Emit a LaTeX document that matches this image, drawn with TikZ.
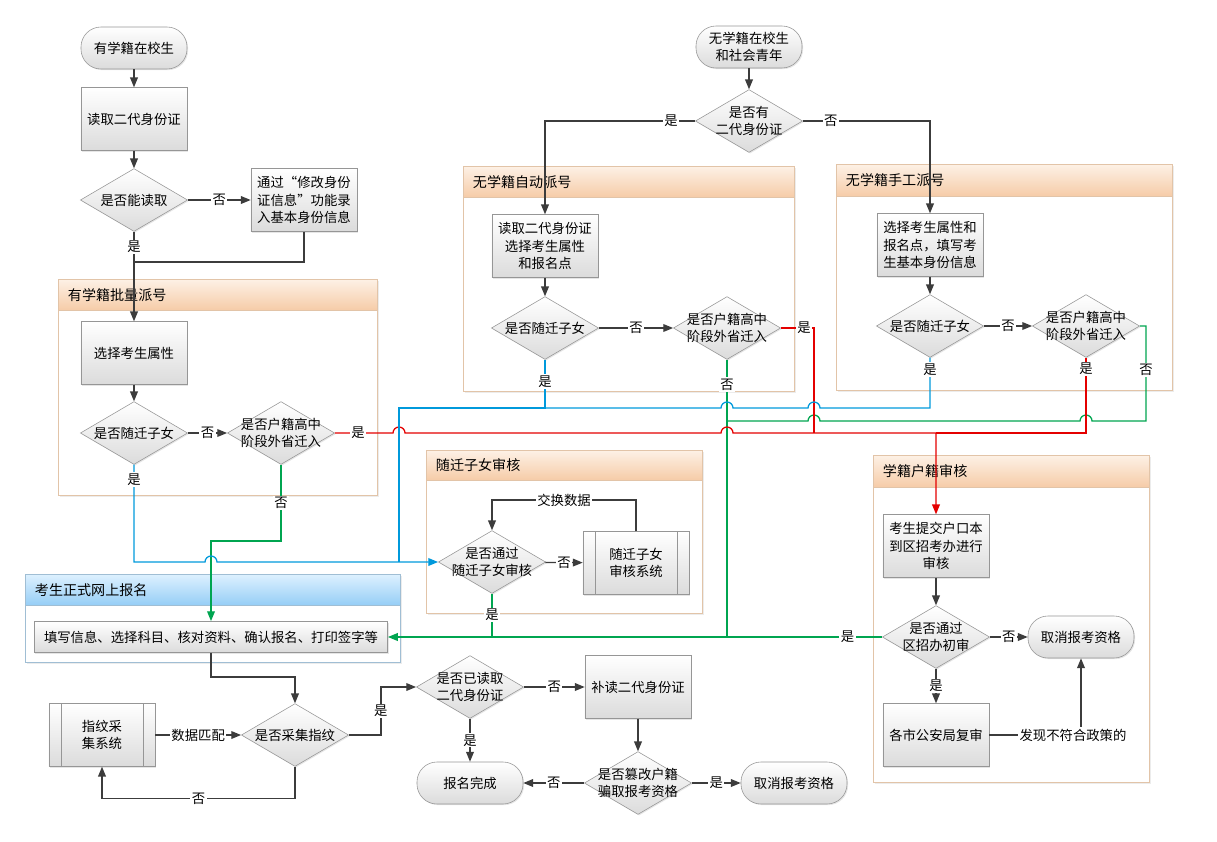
\documentclass[tikz,border=0pt]{standalone}
\usepackage{fontspec}
\setmainfont{Noto Sans CJK SC}
\usetikzlibrary{shapes.geometric,arrows.meta,shadows}
\definecolor{bline}{RGB}{0,153,219}
\definecolor{rline}{RGB}{228,0,0}
\definecolor{gline}{RGB}{0,165,80}
\definecolor{dline}{RGB}{60,60,60}
\definecolor{nodeedge}{RGB}{150,150,150}
\definecolor{lanetop}{RGB}{253,241,230}
\definecolor{lanebot}{RGB}{246,204,168}
\definecolor{laneedge}{RGB}{226,196,168}
\definecolor{bluetop}{RGB}{222,241,255}
\definecolor{bluebot}{RGB}{150,206,246}
\definecolor{blueedge}{RGB}{160,190,212}
\tikzset{
	boxbase/.style={draw=nodeedge, top color=white, bottom color=black!14, font=\fontsize{9.5}{12.5}\selectfont, align=center, drop shadow={opacity=0.2, shadow xshift=0.8pt, shadow yshift=-0.8pt}},
	proc/.style={boxbase, rectangle, minimum width=2.65cm, minimum height=1.57cm, inner sep=1pt},
	term/.style={boxbase, rectangle, rounded corners=0.5cm, minimum width=2.65cm, minimum height=1.05cm},
	decide/.style={boxbase, diamond, shape aspect=1.7, minimum width=2.68cm, minimum height=1.57cm, inner xsep=-12pt, inner ysep=-4pt},
	subproc/.style={proc, path picture={
		\draw[nodeedge] ([xshift=0.3cm]path picture bounding box.north west) -- ([xshift=0.3cm]path picture bounding box.south west)
			([xshift=-0.3cm]path picture bounding box.north east) -- ([xshift=-0.3cm]path picture bounding box.south east);}},
	wire/.style={draw=dline, line width=0.9pt},
	flow/.style={wire, -{Triangle[length=7pt,width=5.5pt]}},
	lbl/.style={fill=white, inner sep=1pt, font=\fontsize{9.5}{11}\selectfont},
	lane/.style={draw=laneedge, fill=white, drop shadow={opacity=0.15, shadow xshift=1.5pt, shadow yshift=-1.5pt}},
	lanehead/.style={draw=laneedge, top color=lanetop, bottom color=lanebot},
	bluehead/.style={draw=blueedge, top color=bluetop, bottom color=bluebot},
	lanetitle/.style={anchor=west, font=\fontsize{10}{12}\selectfont},
}
\begin{document}
\begin{tikzpicture}[x=0.025cm, y=-0.025cm]
	\useasboundingbox (0,0) rectangle (1217,842);
	%%%%% lanes %%%%%
	\draw[lane] (58,279) rectangle (377,495);
	\draw[lanehead] (58,279) rectangle (377,310);
	\node[lanetitle] (batchtitle) at (63,295) {有学籍批量派号};
	
	\draw[lane] (463,166) rectangle (794,391);
	\draw[lanehead] (463,166) rectangle (794,197);
	\node[lanetitle] (autotitle) at (468,182) {无学籍自动派号};
	
	\draw[lane] (836,164) rectangle (1172,390);
	\draw[lanehead] (836,164) rectangle (1172,196);
	\node[lanetitle] (manualtitle) at (841,180) {无学籍手工派号};
	
	\draw[lane] (426,450) rectangle (702,613);
	\draw[lanehead] (426,450) rectangle (702,480);
	\node[lanetitle] (childtitle) at (431,465) {随迁子女审核};
	
	\draw[lane, draw=blueedge] (25,574) rectangle (400,662);
	\draw[bluehead] (25,574) rectangle (400,605);
	\node[lanetitle] (onlinetitle) at (30,590) {考生正式网上报名};
	
	\draw[lane] (873,455) rectangle (1149,782);
	\draw[lanehead] (873,455) rectangle (1149,487);
	\node[lanetitle] (hukoutitle) at (878,471) {学籍户籍审核};
	
	%%%%% nodes %%%%%
	\node[term] (start1) at (134,48) {有学籍在校生};
	\node[proc] (read1) at (134,119) {读取二代身份证};
	\node[decide] (canread) at (134,200) {是否能读取};
	\node[proc] (modify) at (304,200) {通过“修改身份\\证信息”功能录\\入基本身份信息};
	\node[proc] (attr1) at (134,353) {选择考生属性};
	\node[decide] (child1) at (134,433) {是否随迁子女};
	\node[decide] (outin1) at (281,433) {是否户籍高中\\阶段外省迁入};
	
	\node[term] (start2) at (749,47) {无学籍在校生\\和社会青年};
	\node[decide] (hasid) at (749,121) {是否有\\二代身份证};
	\node[proc] (auto1) at (545,246) {读取二代身份证\\选择考生属性\\和报名点};
	\node[decide] (child2) at (545,328) {是否随迁子女};
	\node[decide] (outin2) at (727,328) {是否户籍高中\\阶段外省迁入};
	\node[proc] (manual1) at (930,245) {选择考生属性和\\报名点，填写考\\生基本身份信息};
	\node[decide] (child3) at (930,326) {是否随迁子女};
	\node[decide] (outin3) at (1086,326) {是否户籍高中\\阶段外省迁入};
	
	\node[decide] (pass1) at (492,562) {是否通过\\随迁子女审核};
	\node[subproc] (sys1) at (636,563) {随迁子女\\审核系统};
	
	\node[proc, minimum width=8.83cm, minimum height=0.78cm] (enrol) at (211,637) {填写信息、选择科目、核对资料、确认报名、打印签字等};
	
	\node[subproc] (fpsys) at (102,735) {指纹采\\集系统};
	\node[decide] (fp) at (295,735) {是否采集指纹};
	\node[decide] (readid) at (470,687) {是否已读取\\二代身份证};
	\node[proc] (reread) at (638,687) {补读二代身份证};
	\node[term] (done) at (470,783) {报名完成};
	\node[decide] (tamper) at (638,783) {是否篡改户籍\\骗取报考资格};
	\node[term] (cancel2) at (794,783) {取消报考资格};
	
	\node[proc] (submit) at (936,546) {考生提交户口本\\到区招考办进行\\审核};
	\node[decide] (zone) at (936,637) {是否通过\\区招办初审};
	\node[term] (cancel1) at (1081,637) {取消报考资格};
	\node[proc] (recheck) at (936,735) {各市公安局复审};
	
	\coordinate (join1) at (134,262);
	\coordinate (rjoin) at (936,433);
	\coordinate (rjoin2) at (814,433);
	\coordinate (bjoin) at (399,562);
	\coordinate (bjoin2) at (545,408);
	\coordinate (gjoin) at (727,636);
	\coordinate (gjoin2) at (727,421);
	\coordinate (gjoin3) at (492,636);
	\coordinate (xchg) at (492,500);
	
	%%%%% connectors %%%%%
	\draw[flow] (start1) -- (read1);
	\draw[flow] (read1) -- (canread);
	\draw[flow] (canread) -- node[lbl]{否} (modify);
	\draw[flow] (canread) -- node[lbl,pos=0.17]{是} (attr1);
	\draw[wire] (modify.south) |- (join1);
	\draw[flow] (attr1) -- (child1);
	\draw[flow] (child1) -- node[lbl]{否} (outin1);
	
	\draw[flow] (start2) -- (hasid);
	\draw[flow] (hasid.west) -| node[lbl,pos=0.08]{是} (auto1.north);
	\draw[flow] (hasid.east) -| node[lbl,pos=0.11]{否} (manual1.north);
	\draw[flow] (auto1) -- (child2);
	\draw[flow] (child2) -- node[lbl]{否} (outin2);
	\draw[flow] (manual1) -- (child3);
	\draw[flow] (child3) -- node[lbl]{否} (outin3);
	
	% green
	\draw[wire, draw=gline] (outin2.south) -- node[lbl,pos=0.09]{否} (gjoin);
	\draw[wire, draw=gline] (outin3.east) -- (1146,326) -- node[lbl,pos=0.46]{否} (1146,421) -- (1092,421)
		arc[start angle=0, end angle=180, radius=0.15cm] -- (820,421)
		arc[start angle=0, end angle=180, radius=0.15cm] -- (gjoin2);
	\draw[flow, draw=gline] (outin1.south) -- node[lbl]{否} (281,541) -| (enrol.north);
	\draw[flow, draw=gline] (zone.west) -- node[lbl,pos=0.07]{是} (enrol.east);
	\draw[wire, draw=gline] (pass1.south) -- node[lbl]{是} (gjoin3);
	
	% red
	\draw[wire, draw=rline] (outin2.east) -- node[lbl,pos=0.7]{是} (814,328) -- (rjoin2);
	\draw[wire, draw=rline] (outin3.south) -- node[lbl,pos=0.15]{是} (1086,433) -- (rjoin);
	\draw[flow, draw=rline] (outin1.east) -- node[lbl,pos=0.4]{是} (393,433)
		arc[start angle=180, end angle=0, radius=0.15cm] -- (721,433)
		arc[start angle=180, end angle=0, radius=0.15cm] -- (rjoin) -- (submit.north);
	
	% blue
	\draw[wire, draw=bline] (child2.south) -- node[lbl,pos=0.45]{是} (bjoin2) -| (bjoin);
	\draw[wire, draw=bline] (child3.south) -- node[lbl,pos=0.24]{是} (930,408) -- (820,408)
		arc[start angle=0, end angle=180, radius=0.15cm] -- (733,408)
		arc[start angle=0, end angle=180, radius=0.15cm] -- (bjoin2);
	\draw[flow, draw=bline] (child1.south) -- node[lbl,pos=0.15]{是} (134,562) -- (205,562)
		arc[start angle=180, end angle=0, radius=0.15cm] -- (pass1.west);
	
	\draw[flow] (pass1) -- node[lbl]{否} (sys1);
	\draw[flow] (sys1.north) |- node[lbl,pos=0.75]{交换数据} (xchg) -- (pass1.north);
	
	\draw[flow] (enrol.south) -- ++(0,24) -| (fp.north);
	\draw[flow] (fpsys) -- node[lbl]{数据匹配} (fp);
	\draw[flow] (fp.south) -- ++(0,32) -| node[lbl,pos=0.25]{否} (fpsys.south);
	\draw[flow] (fp.east) -- ++(32,0) |- node[lbl,pos=0.25]{是} (readid.west);
	\draw[flow] (readid) -- node[lbl]{否} (reread);
	\draw[flow] (readid) -- node[lbl]{是} (done);
	\draw[flow] (reread) -- (tamper);
	\draw[flow] (tamper) -- node[lbl]{否} (done);
	\draw[flow] (tamper) -- node[lbl]{是} (cancel2);
	
	\draw[flow] (submit) -- (zone);
	\draw[flow] (zone) -- node[lbl]{否} (cancel1);
	\draw[flow] (zone) -- node[lbl]{是} (recheck);
	\draw[flow] (recheck.east) -| node[lbl,pos=0.5,xshift=-0.2cm]{发现不符合政策的} (cancel1.south);
\end{tikzpicture}
\end{document}
